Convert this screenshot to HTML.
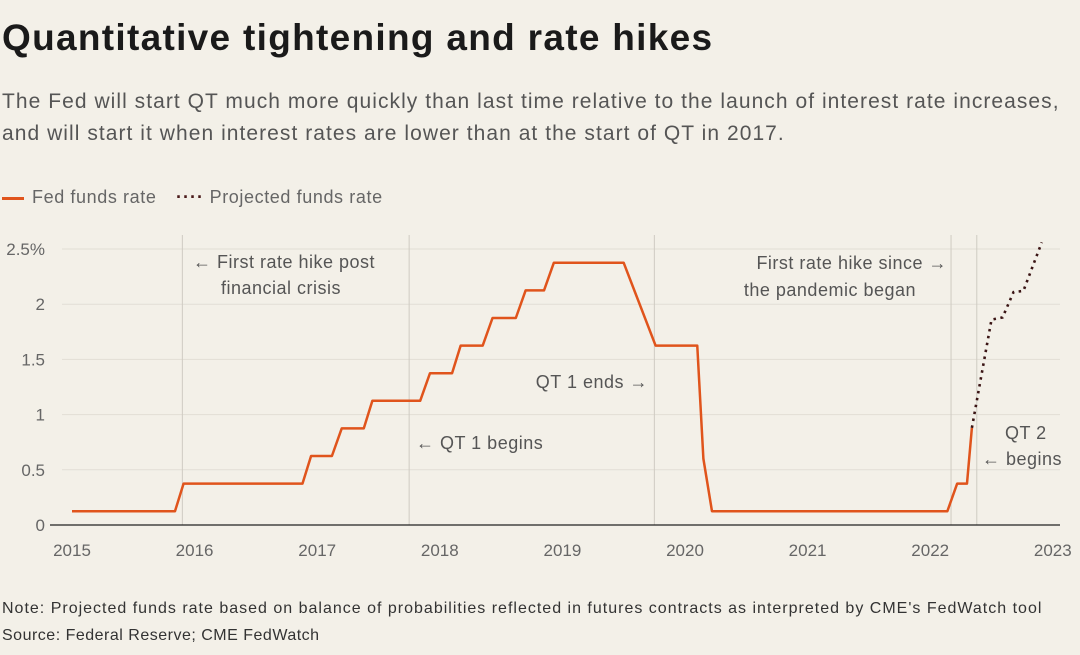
<!DOCTYPE html>
<html><head><meta charset="utf-8"><style>
body{margin:0;width:1080px;height:655px;background:#f3f0e8;font-family:"Liberation Sans",sans-serif;overflow:hidden;position:relative}
.t{position:absolute;white-space:nowrap}
</style></head><body>
<div class="t" style="left:2px;top:17px;font-size:37px;font-weight:bold;color:#1a1a1a;letter-spacing:1.3px">Quantitative tightening and rate hikes</div>
<div class="t" style="left:2px;top:86px;font-size:21px;color:#555;line-height:32px;letter-spacing:1.05px">The Fed will start QT much more quickly than last time relative to the launch of interest rate increases,<br>and will start it when interest rates are lower than at the start of QT in 2017.</div>
<div class="t" style="left:2px;top:187px;font-size:18px;color:#666;letter-spacing:0.6px"><span style="display:inline-block;width:22px;height:3px;background:#e0541c;vertical-align:middle;margin-right:8px"></span>Fed funds rate</div>
<div class="t" style="left:176px;top:187px;font-size:18px;color:#666;letter-spacing:0.6px"><span style="color:#4a1a1a;font-weight:bold;letter-spacing:1px">····</span> Projected funds rate</div>
<svg id="c" width="1080" height="655" style="position:absolute;left:0;top:0"></svg>
<div class="t" style="left:2px;top:600px;font-size:16px;color:#333;letter-spacing:1px">Note: Projected funds rate based on balance of probabilities reflected in futures contracts as interpreted by CME's FedWatch tool</div>
<div class="t" style="left:2px;top:627px;font-size:16px;color:#333;letter-spacing:0.5px">Source: Federal Reserve; CME FedWatch</div>
<script>
const yTicks=[0,0.5,1,1.5,2,2.5];
const yTickLabels=["0","0.5","1","1.5","2","2.5%"];
const xTicks=[2015,2016,2017,2018,2019,2020,2021,2022,2023];
const fedDates=[2015.0,2015.84,2015.91,2016.88,2016.95,2017.12,2017.2,2017.38,2017.45,2017.84,2017.92,2018.1,2018.17,2018.35,2018.43,2018.62,2018.7,2018.85,2018.93,2019.5,2019.76,2020.1,2020.15,2020.22,2022.14,2022.22,2022.3,2022.34];
const fedRates=[0.125,0.125,0.375,0.375,0.625,0.625,0.875,0.875,1.125,1.125,1.375,1.375,1.625,1.625,1.875,1.875,2.125,2.125,2.375,2.375,1.625,1.625,0.6,0.125,0.125,0.375,0.375,0.88];
const projDates=[2022.34,2022.5,2022.59,2022.68,2022.76,2022.91];
const projRates=[0.88,1.86,1.88,2.11,2.12,2.56];
const vLines=[2015.9,2017.75,2019.75,2022.17,2022.38];
const X=v=>72+(v-2015)*122.6, Y=v=>525-v*110.4;
const s=document.getElementById('c'),NS='http://www.w3.org/2000/svg';
function mk(t,a,txt){const e=document.createElementNS(NS,t);for(const k in a)e.setAttribute(k,a[k]);if(txt!=null)e.textContent=txt;s.appendChild(e);return e;}
yTicks.forEach((v,i)=>{
 const g=mk('line',{x1:62,x2:1060,y1:Y(v),y2:Y(v),stroke:'#e2ded5','stroke-width':1});
 
 
 const t=mk('text',{x:45,y:Y(v)+6,'text-anchor':'end','font-size':17,fill:'#666','font-family':'Liberation Sans'},yTickLabels[i]);
 
 
});
vLines.forEach(v=>{
 const l=mk('line',{x1:X(v),x2:X(v),y1:235,y2:525,stroke:'#cfcbc2','stroke-width':1});
 
 
});
const ax=mk('line',{x1:50,x2:1060,y1:525,y2:525,stroke:'#222','stroke-width':1.3});


xTicks.forEach(v=>{
 const t=mk('text',{x:X(v),y:556,'text-anchor':'middle','font-size':17,fill:'#666','font-family':'Liberation Sans'},String(v));
 
 
});
const fl=mk('polyline',{points:fedDates.map((d,i)=>X(d)+','+Y(fedRates[i])).join(' '),fill:'none',stroke:'#e0541c','stroke-width':2.5,'stroke-linejoin':'round'});


const pl=mk('polyline',{points:projDates.map((d,i)=>X(d)+','+Y(projRates[i])).join(' '),fill:'none',stroke:'#3a1414','stroke-width':2.6,'stroke-dasharray':'2.5 4.5'});


const ann=[[193,268,'start','← First rate hike post'],[221,294,'start','financial crisis'],[416,449,'start','← QT 1 begins'],[648,388,'end','QT 1 ends →'],[947,269,'end','First rate hike since →'],[916,296,'end','the pandemic  began'],[1005,439,'start','QT 2'],[982,465,'start','← begins']];
ann.forEach(a=>{
 const t=mk('text',{x:a[0],y:a[1],'text-anchor':a[2],'font-size':18,fill:'#555','font-family':'Liberation Sans','letter-spacing':0.5},a[3]);
 
 
});
</script>
</body></html>
